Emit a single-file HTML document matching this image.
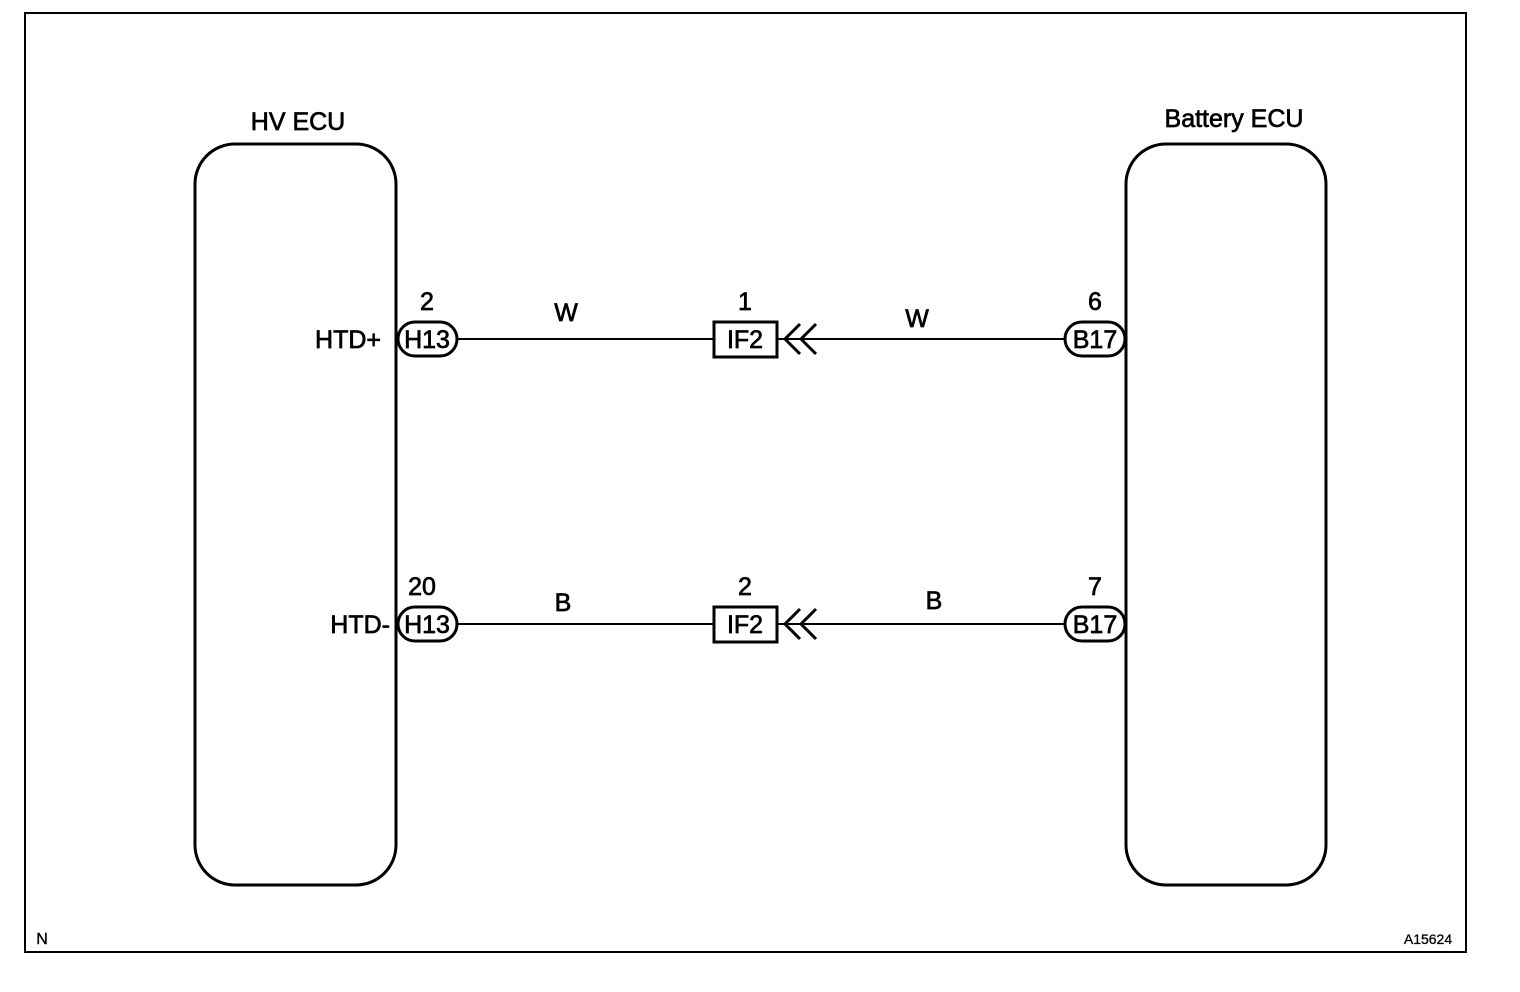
<!DOCTYPE html>
<html><head><style>body{margin:0;background:#fff}svg{display:block}</style></head><body>
<svg width="1520" height="992" viewBox="0 0 1520 992" xmlns="http://www.w3.org/2000/svg" font-family="Liberation Sans, Arial, sans-serif" fill="none" stroke="#000">
<rect x="25" y="13" width="1441" height="939" stroke-width="2"/>
<rect x="195" y="144" width="201" height="741" rx="40" stroke-width="3"/>
<rect x="1126" y="144" width="200" height="741" rx="40" stroke-width="3"/>
<g stroke-width="2">
<line x1="457" y1="339" x2="713" y2="339"/><line x1="777" y1="339" x2="1064" y2="339"/>
<line x1="457" y1="624" x2="713" y2="624"/><line x1="777" y1="624" x2="1064" y2="624"/>
</g>
<g stroke-width="3">
<rect x="398" y="322" width="59" height="34" rx="17"/>
<rect x="398" y="607" width="59" height="34" rx="17"/>
<rect x="1065" y="322" width="60" height="34" rx="17"/>
<rect x="1065" y="607" width="60" height="34" rx="17"/>
<rect x="714" y="322" width="63" height="35"/>
<rect x="714" y="607" width="63" height="35"/>
<polyline points="800,324 785,339 800,354"/><polyline points="816,324 801,339 816,354"/>
<polyline points="800,609 785,624 800,639"/><polyline points="816,609 801,624 816,639"/>
</g>
<g fill="#000" stroke="#000" stroke-width="0.7" font-size="25" text-anchor="middle">
<text x="298" y="130">HV ECU</text>
<text x="1234" y="127">Battery ECU</text>
<text x="381" y="348" text-anchor="end">HTD+</text>
<text x="390" y="633" text-anchor="end">HTD-</text>
<text x="427" y="310">2</text><text x="422" y="595">20</text>
<text x="427" y="348">H13</text><text x="427" y="633">H13</text>
<text x="1095" y="310">6</text><text x="1095" y="595">7</text>
<text x="1095" y="348">B17</text><text x="1095" y="633">B17</text>
<text x="745" y="310">1</text><text x="745" y="595">2</text>
<text x="745" y="348">IF2</text><text x="745" y="633">IF2</text>
<text x="566" y="321">W</text><text x="917" y="327">W</text>
<text x="563" y="611">B</text><text x="934" y="609">B</text>
<text x="42" y="944" font-size="16" stroke-width="0.4">N</text>
<text x="1428" y="944" font-size="14" stroke-width="0.3">A15624</text>
</g>
</svg>
</body></html>
